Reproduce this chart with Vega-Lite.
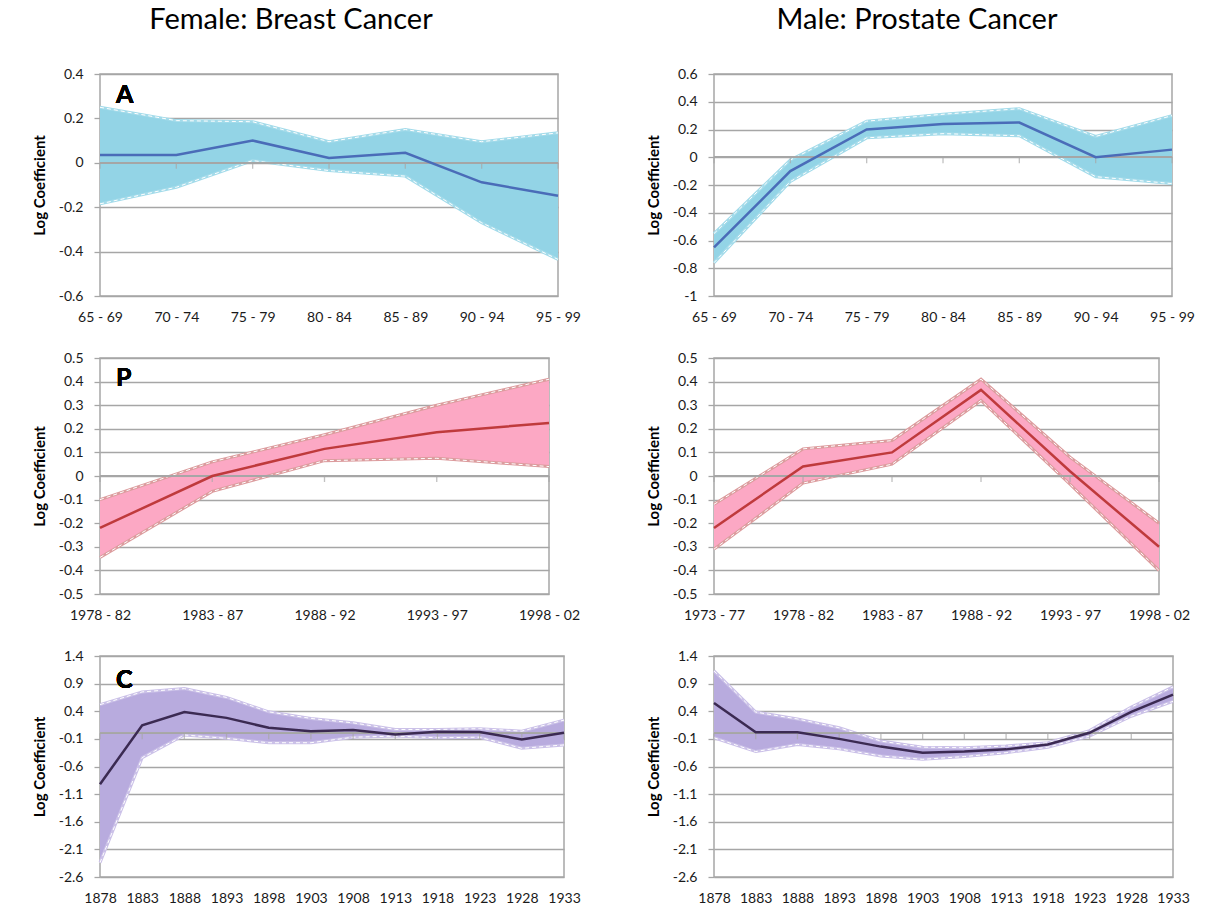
{
  "$schema": "https://vega.github.io/schema/vega-lite/v6.json",
  "background": "white",
  "padding": {"left": 31, "top": 5, "right": 0, "bottom": 0},
  "datasets": {
    "ageF": [
      {"g": "65 - 69", "mean": 0.035, "lo": -0.185, "hi": 0.25},
      {"g": "70 - 74", "mean": 0.035, "lo": -0.11, "hi": 0.19},
      {"g": "75 - 79", "mean": 0.1, "lo": 0.01, "hi": 0.185},
      {"g": "80 - 84", "mean": 0.022, "lo": -0.035, "hi": 0.095},
      {"g": "85 - 89", "mean": 0.045, "lo": -0.06, "hi": 0.15},
      {"g": "90 - 94", "mean": -0.088, "lo": -0.27, "hi": 0.095},
      {"g": "95 - 99", "mean": -0.148, "lo": -0.435, "hi": 0.135}
    ],
    "ageM": [
      {"g": "65 - 69", "mean": -0.65, "lo": -0.76, "hi": -0.55},
      {"g": "70 - 74", "mean": -0.1, "lo": -0.175, "hi": -0.02},
      {"g": "75 - 79", "mean": 0.2, "lo": 0.14, "hi": 0.26},
      {"g": "80 - 84", "mean": 0.24, "lo": 0.17, "hi": 0.31},
      {"g": "85 - 89", "mean": 0.25, "lo": 0.155, "hi": 0.35},
      {"g": "90 - 94", "mean": 0.0, "lo": -0.14, "hi": 0.15},
      {"g": "95 - 99", "mean": 0.055, "lo": -0.19, "hi": 0.3}
    ],
    "periodF": [
      {"g": "1978 - 82", "mean": -0.22, "lo": -0.345, "hi": -0.1},
      {"g": "1983 - 87", "mean": 0.0, "lo": -0.065, "hi": 0.06},
      {"g": "1988 - 92", "mean": 0.115, "lo": 0.065, "hi": 0.175},
      {"g": "1993 - 97", "mean": 0.185, "lo": 0.075, "hi": 0.3},
      {"g": "1998 - 02", "mean": 0.225, "lo": 0.04, "hi": 0.41}
    ],
    "periodM": [
      {"g": "1973 - 77", "mean": -0.22, "lo": -0.31, "hi": -0.12},
      {"g": "1978 - 82", "mean": 0.04, "lo": -0.03, "hi": 0.115},
      {"g": "1983 - 87", "mean": 0.1, "lo": 0.05, "hi": 0.15},
      {"g": "1988 - 92", "mean": 0.365, "lo": 0.32, "hi": 0.41},
      {"g": "1993 - 97", "mean": 0.02, "lo": -0.035, "hi": 0.08},
      {"g": "1998 - 02", "mean": -0.3, "lo": -0.4, "hi": -0.2}
    ],
    "cohortF": [
      {"g": "1878", "mean": -0.92, "lo": -2.34, "hi": 0.52},
      {"g": "1883", "mean": 0.145, "lo": -0.44, "hi": 0.75},
      {"g": "1888", "mean": 0.385, "lo": -0.03, "hi": 0.81},
      {"g": "1893", "mean": 0.28, "lo": -0.09, "hi": 0.65},
      {"g": "1898", "mean": 0.1, "lo": -0.17, "hi": 0.39},
      {"g": "1903", "mean": 0.04, "lo": -0.17, "hi": 0.27},
      {"g": "1908", "mean": 0.06, "lo": -0.07, "hi": 0.19},
      {"g": "1913", "mean": -0.02, "lo": -0.05, "hi": 0.07},
      {"g": "1918", "mean": 0.03, "lo": -0.08, "hi": 0.07},
      {"g": "1923", "mean": 0.025, "lo": -0.07, "hi": 0.085},
      {"g": "1928", "mean": -0.11, "lo": -0.27, "hi": 0.04},
      {"g": "1933", "mean": 0.01, "lo": -0.21, "hi": 0.24}
    ],
    "cohortM": [
      {"g": "1878", "mean": 0.55, "lo": -0.08, "hi": 1.13},
      {"g": "1883", "mean": 0.02, "lo": -0.33, "hi": 0.385},
      {"g": "1888", "mean": 0.02, "lo": -0.2, "hi": 0.26},
      {"g": "1893", "mean": -0.1, "lo": -0.28, "hi": 0.1},
      {"g": "1898", "mean": -0.24, "lo": -0.41, "hi": -0.14},
      {"g": "1903", "mean": -0.35, "lo": -0.47, "hi": -0.25},
      {"g": "1908", "mean": -0.33, "lo": -0.42, "hi": -0.26},
      {"g": "1913", "mean": -0.29, "lo": -0.35, "hi": -0.23},
      {"g": "1918", "mean": -0.2, "lo": -0.25, "hi": -0.17},
      {"g": "1923", "mean": 0.01, "lo": -0.05, "hi": 0.05},
      {"g": "1928", "mean": 0.39, "lo": 0.31, "hi": 0.475},
      {"g": "1933", "mean": 0.7, "lo": 0.58, "hi": 0.84}
    ]
  },
  "columns": 2,
  "spacing": {"row": 25, "column": 63},
  "concat": [
    {
      "width": 458, "height": 222,
      "title": {"text": "Female: Breast Cancer", "anchor": "middle", "frame": "group", "dx": -38, "offset": 9, "baseline": "alphabetic", "fontSize": 29, "fontWeight": "normal", "font": "Lato", "color": "black"},
      "data": {"name": "ageF"},
      "layer": [
        {"mark": {"type": "area", "color": "#93d4e6", "opacity": 1},
         "encoding": {
           "x": {"field": "g", "type": "ordinal", "sort": null, "scale": {"type": "point", "padding": 0}, "axis": {"title": null}},
           "y": {"field": "lo", "type": "quantitative", "title": "Log Coefficient", "scale": {"domain": [-0.6, 0.4], "nice": false, "zero": false}, "axis": {"values": [-0.6, -0.4, -0.2, 0, 0.2, 0.4], "labelExpr": "'' + datum.value"}},
           "y2": {"field": "hi"}}},
        {"mark": {"type": "line", "color": "#a3dbea", "strokeWidth": 3}, "encoding": {"x": {"field": "g", "type": "ordinal", "sort": null}, "y": {"field": "hi", "type": "quantitative", "title": "Log Coefficient"}}},
        {"mark": {"type": "line", "color": "#a3dbea", "strokeWidth": 3}, "encoding": {"x": {"field": "g", "type": "ordinal", "sort": null}, "y": {"field": "lo", "type": "quantitative", "title": "Log Coefficient"}}},
        {"mark": {"type": "line", "color": "white", "strokeWidth": 1, "strokeDash": [4, 3]}, "encoding": {"x": {"field": "g", "type": "ordinal", "sort": null}, "y": {"field": "hi", "type": "quantitative", "title": "Log Coefficient"}}},
        {"mark": {"type": "line", "color": "white", "strokeWidth": 1, "strokeDash": [4, 3]}, "encoding": {"x": {"field": "g", "type": "ordinal", "sort": null}, "y": {"field": "lo", "type": "quantitative", "title": "Log Coefficient"}}},
        {"mark": {"type": "rule", "color": "#a6a6a6", "strokeWidth": 1.3}, "encoding": {"y": {"datum": 0}}},
        {"mark": {"type": "tick", "orient": "vertical", "size": 6, "thickness": 1.3, "color": "#a6a6a6", "yOffset": 3}, "encoding": {"x": {"field": "g", "type": "ordinal", "sort": null}, "y": {"datum": 0}}},
        {"mark": {"type": "line", "color": "#4a6cb8", "strokeWidth": 2.5}, "encoding": {"x": {"field": "g", "type": "ordinal", "sort": null}, "y": {"field": "mean", "type": "quantitative", "title": "Log Coefficient"}}},
        {"mark": {"type": "text", "text": "A", "align": "left", "baseline": "top", "dx": 16, "dy": 9, "fontSize": 25, "fontWeight": "bold", "font": "Lato", "color": "black"}, "encoding": {"x": {"datum": "65 - 69"}, "y": {"datum": 0.4}}}
      ]
    },
    {
      "width": 458, "height": 222,
      "title": {"text": "Male: Prostate Cancer", "anchor": "middle", "frame": "group", "dx": -26, "offset": 9, "baseline": "alphabetic", "fontSize": 29, "fontWeight": "normal", "font": "Lato", "color": "black"},
      "data": {"name": "ageM"},
      "layer": [
        {"mark": {"type": "area", "color": "#93d4e6", "opacity": 1},
         "encoding": {
           "x": {"field": "g", "type": "ordinal", "sort": null, "scale": {"type": "point", "padding": 0}, "axis": {"title": null}},
           "y": {"field": "lo", "type": "quantitative", "title": "Log Coefficient", "scale": {"domain": [-1, 0.6], "nice": false, "zero": false}, "axis": {"values": [-1, -0.8, -0.6, -0.4, -0.2, 0, 0.2, 0.4, 0.6], "labelExpr": "'' + datum.value"}},
           "y2": {"field": "hi"}}},
        {"mark": {"type": "line", "color": "#a3dbea", "strokeWidth": 3}, "encoding": {"x": {"field": "g", "type": "ordinal", "sort": null}, "y": {"field": "hi", "type": "quantitative", "title": "Log Coefficient"}}},
        {"mark": {"type": "line", "color": "#a3dbea", "strokeWidth": 3}, "encoding": {"x": {"field": "g", "type": "ordinal", "sort": null}, "y": {"field": "lo", "type": "quantitative", "title": "Log Coefficient"}}},
        {"mark": {"type": "line", "color": "white", "strokeWidth": 1, "strokeDash": [4, 3]}, "encoding": {"x": {"field": "g", "type": "ordinal", "sort": null}, "y": {"field": "hi", "type": "quantitative", "title": "Log Coefficient"}}},
        {"mark": {"type": "line", "color": "white", "strokeWidth": 1, "strokeDash": [4, 3]}, "encoding": {"x": {"field": "g", "type": "ordinal", "sort": null}, "y": {"field": "lo", "type": "quantitative", "title": "Log Coefficient"}}},
        {"mark": {"type": "rule", "color": "#a6a6a6", "strokeWidth": 1.3}, "encoding": {"y": {"datum": 0}}},
        {"mark": {"type": "tick", "orient": "vertical", "size": 6, "thickness": 1.3, "color": "#a6a6a6", "yOffset": 3}, "encoding": {"x": {"field": "g", "type": "ordinal", "sort": null}, "y": {"datum": 0}}},
        {"mark": {"type": "line", "color": "#4a6cb8", "strokeWidth": 2.5}, "encoding": {"x": {"field": "g", "type": "ordinal", "sort": null}, "y": {"field": "mean", "type": "quantitative", "title": "Log Coefficient"}}}
      ]
    },
    {
      "width": 449, "height": 236,
      "data": {"name": "periodF"},
      "layer": [
        {"mark": {"type": "area", "color": "#fca8c4", "opacity": 1},
         "encoding": {
           "x": {"field": "g", "type": "ordinal", "sort": null, "scale": {"type": "point", "padding": 0}, "axis": {"title": null}},
           "y": {"field": "lo", "type": "quantitative", "title": "Log Coefficient", "scale": {"domain": [-0.5, 0.5], "nice": false, "zero": false}, "axis": {"values": [-0.5, -0.4, -0.3, -0.2, -0.1, 0, 0.1, 0.2, 0.3, 0.4, 0.5], "labelExpr": "'' + datum.value"}},
           "y2": {"field": "hi"}}},
        {"mark": {"type": "line", "color": "#dc9c9e", "strokeWidth": 3}, "encoding": {"x": {"field": "g", "type": "ordinal", "sort": null}, "y": {"field": "hi", "type": "quantitative", "title": "Log Coefficient"}}},
        {"mark": {"type": "line", "color": "#dc9c9e", "strokeWidth": 3}, "encoding": {"x": {"field": "g", "type": "ordinal", "sort": null}, "y": {"field": "lo", "type": "quantitative", "title": "Log Coefficient"}}},
        {"mark": {"type": "line", "color": "white", "strokeWidth": 1, "strokeDash": [4, 3]}, "encoding": {"x": {"field": "g", "type": "ordinal", "sort": null}, "y": {"field": "hi", "type": "quantitative", "title": "Log Coefficient"}}},
        {"mark": {"type": "line", "color": "white", "strokeWidth": 1, "strokeDash": [4, 3]}, "encoding": {"x": {"field": "g", "type": "ordinal", "sort": null}, "y": {"field": "lo", "type": "quantitative", "title": "Log Coefficient"}}},
        {"mark": {"type": "rule", "color": "#a6a6a6", "strokeWidth": 1.3}, "encoding": {"y": {"datum": 0}}},
        {"mark": {"type": "tick", "orient": "vertical", "size": 6, "thickness": 1.3, "color": "#a6a6a6", "yOffset": 3}, "encoding": {"x": {"field": "g", "type": "ordinal", "sort": null}, "y": {"datum": 0}}},
        {"mark": {"type": "line", "color": "#bf3a3c", "strokeWidth": 2.5}, "encoding": {"x": {"field": "g", "type": "ordinal", "sort": null}, "y": {"field": "mean", "type": "quantitative", "title": "Log Coefficient"}}},
        {"mark": {"type": "text", "text": "P", "align": "left", "baseline": "top", "dx": 16, "dy": 8, "fontSize": 25, "fontWeight": "bold", "font": "Lato", "color": "black"}, "encoding": {"x": {"datum": "1978 - 82"}, "y": {"datum": 0.5}}}
      ]
    },
    {
      "width": 445, "height": 236,
      "data": {"name": "periodM"},
      "layer": [
        {"mark": {"type": "area", "color": "#fca8c4", "opacity": 1},
         "encoding": {
           "x": {"field": "g", "type": "ordinal", "sort": null, "scale": {"type": "point", "padding": 0}, "axis": {"title": null}},
           "y": {"field": "lo", "type": "quantitative", "title": "Log Coefficient", "scale": {"domain": [-0.5, 0.5], "nice": false, "zero": false}, "axis": {"values": [-0.5, -0.4, -0.3, -0.2, -0.1, 0, 0.1, 0.2, 0.3, 0.4, 0.5], "labelExpr": "'' + datum.value"}},
           "y2": {"field": "hi"}}},
        {"mark": {"type": "line", "color": "#dc9c9e", "strokeWidth": 3}, "encoding": {"x": {"field": "g", "type": "ordinal", "sort": null}, "y": {"field": "hi", "type": "quantitative", "title": "Log Coefficient"}}},
        {"mark": {"type": "line", "color": "#dc9c9e", "strokeWidth": 3}, "encoding": {"x": {"field": "g", "type": "ordinal", "sort": null}, "y": {"field": "lo", "type": "quantitative", "title": "Log Coefficient"}}},
        {"mark": {"type": "line", "color": "white", "strokeWidth": 1, "strokeDash": [4, 3]}, "encoding": {"x": {"field": "g", "type": "ordinal", "sort": null}, "y": {"field": "hi", "type": "quantitative", "title": "Log Coefficient"}}},
        {"mark": {"type": "line", "color": "white", "strokeWidth": 1, "strokeDash": [4, 3]}, "encoding": {"x": {"field": "g", "type": "ordinal", "sort": null}, "y": {"field": "lo", "type": "quantitative", "title": "Log Coefficient"}}},
        {"mark": {"type": "rule", "color": "#a6a6a6", "strokeWidth": 1.3}, "encoding": {"y": {"datum": 0}}},
        {"mark": {"type": "tick", "orient": "vertical", "size": 6, "thickness": 1.3, "color": "#a6a6a6", "yOffset": 3}, "encoding": {"x": {"field": "g", "type": "ordinal", "sort": null}, "y": {"datum": 0}}},
        {"mark": {"type": "line", "color": "#bf3a3c", "strokeWidth": 2.5}, "encoding": {"x": {"field": "g", "type": "ordinal", "sort": null}, "y": {"field": "mean", "type": "quantitative", "title": "Log Coefficient"}}}
      ]
    },
    {
      "width": 464, "height": 221,
      "data": {"name": "cohortF"},
      "layer": [
        {"mark": {"type": "area", "color": "#b8abde", "opacity": 1},
         "encoding": {
           "x": {"field": "g", "type": "ordinal", "sort": null, "scale": {"type": "point", "padding": 0}, "axis": {"title": null}},
           "y": {"field": "lo", "type": "quantitative", "title": "Log Coefficient", "scale": {"domain": [-2.6, 1.4], "nice": false, "zero": false}, "axis": {"values": [-2.6, -2.1, -1.6, -1.1, -0.6, -0.1, 0.4, 0.9, 1.4], "labelExpr": "'' + datum.value"}},
           "y2": {"field": "hi"}}},
        {"mark": {"type": "line", "color": "#cbc1e8", "strokeWidth": 3}, "encoding": {"x": {"field": "g", "type": "ordinal", "sort": null}, "y": {"field": "hi", "type": "quantitative", "title": "Log Coefficient"}}},
        {"mark": {"type": "line", "color": "#cbc1e8", "strokeWidth": 3}, "encoding": {"x": {"field": "g", "type": "ordinal", "sort": null}, "y": {"field": "lo", "type": "quantitative", "title": "Log Coefficient"}}},
        {"mark": {"type": "line", "color": "white", "strokeWidth": 1, "strokeDash": [4, 3]}, "encoding": {"x": {"field": "g", "type": "ordinal", "sort": null}, "y": {"field": "hi", "type": "quantitative", "title": "Log Coefficient"}}},
        {"mark": {"type": "line", "color": "white", "strokeWidth": 1, "strokeDash": [4, 3]}, "encoding": {"x": {"field": "g", "type": "ordinal", "sort": null}, "y": {"field": "lo", "type": "quantitative", "title": "Log Coefficient"}}},
        {"mark": {"type": "rule", "color": "#a6a6a6", "strokeWidth": 1.3}, "encoding": {"y": {"datum": 0}}},
        {"mark": {"type": "tick", "orient": "vertical", "size": 6, "thickness": 1.3, "color": "#a6a6a6", "yOffset": 3}, "encoding": {"x": {"field": "g", "type": "ordinal", "sort": null}, "y": {"datum": 0}}},
        {"mark": {"type": "line", "color": "#3b2a52", "strokeWidth": 2.5}, "encoding": {"x": {"field": "g", "type": "ordinal", "sort": null}, "y": {"field": "mean", "type": "quantitative", "title": "Log Coefficient"}}},
        {"mark": {"type": "text", "text": "C", "align": "left", "baseline": "top", "dx": 16, "dy": 12, "fontSize": 25, "fontWeight": "bold", "font": "Lato", "color": "black"}, "encoding": {"x": {"datum": "1878"}, "y": {"datum": 1.4}}}
      ]
    },
    {
      "width": 459, "height": 221,
      "data": {"name": "cohortM"},
      "layer": [
        {"mark": {"type": "area", "color": "#b8abde", "opacity": 1},
         "encoding": {
           "x": {"field": "g", "type": "ordinal", "sort": null, "scale": {"type": "point", "padding": 0}, "axis": {"title": null}},
           "y": {"field": "lo", "type": "quantitative", "title": "Log Coefficient", "scale": {"domain": [-2.6, 1.4], "nice": false, "zero": false}, "axis": {"values": [-2.6, -2.1, -1.6, -1.1, -0.6, -0.1, 0.4, 0.9, 1.4], "labelExpr": "'' + datum.value"}},
           "y2": {"field": "hi"}}},
        {"mark": {"type": "line", "color": "#cbc1e8", "strokeWidth": 3}, "encoding": {"x": {"field": "g", "type": "ordinal", "sort": null}, "y": {"field": "hi", "type": "quantitative", "title": "Log Coefficient"}}},
        {"mark": {"type": "line", "color": "#cbc1e8", "strokeWidth": 3}, "encoding": {"x": {"field": "g", "type": "ordinal", "sort": null}, "y": {"field": "lo", "type": "quantitative", "title": "Log Coefficient"}}},
        {"mark": {"type": "line", "color": "white", "strokeWidth": 1, "strokeDash": [4, 3]}, "encoding": {"x": {"field": "g", "type": "ordinal", "sort": null}, "y": {"field": "hi", "type": "quantitative", "title": "Log Coefficient"}}},
        {"mark": {"type": "line", "color": "white", "strokeWidth": 1, "strokeDash": [4, 3]}, "encoding": {"x": {"field": "g", "type": "ordinal", "sort": null}, "y": {"field": "lo", "type": "quantitative", "title": "Log Coefficient"}}},
        {"mark": {"type": "rule", "color": "#a6a6a6", "strokeWidth": 1.3}, "encoding": {"y": {"datum": 0}}},
        {"mark": {"type": "tick", "orient": "vertical", "size": 6, "thickness": 1.3, "color": "#a6a6a6", "yOffset": 3}, "encoding": {"x": {"field": "g", "type": "ordinal", "sort": null}, "y": {"datum": 0}}},
        {"mark": {"type": "line", "color": "#3b2a52", "strokeWidth": 2.5}, "encoding": {"x": {"field": "g", "type": "ordinal", "sort": null}, "y": {"field": "mean", "type": "quantitative", "title": "Log Coefficient"}}}
      ]
    }
  ],
  "config": {
    "font": "Lato",
    "view": {"stroke": "#a6a6a6", "strokeWidth": 1.5},
    "axis": {
      "labelFont": "Lato", "labelFontSize": 14, "labelColor": "#1a1a1a", "labelOverlap": false,
      "titleFont": "Lato", "titleFontSize": 15, "titleFontWeight": "bold", "titleColor": "black",
      "gridColor": "#a6a6a6", "gridWidth": 1.3, "tickColor": "#a6a6a6", "tickWidth": 1.3, "domain": false
    },
    "axisX": {"grid": false, "ticks": false, "labelPadding": 14, "labelAngle": 0},
    "axisY": {"grid": true, "ticks": true, "tickSize": 6, "tickCount": 20, "labelPadding": 11, "titlePadding": 11, "zindex": 1}
  }
}
